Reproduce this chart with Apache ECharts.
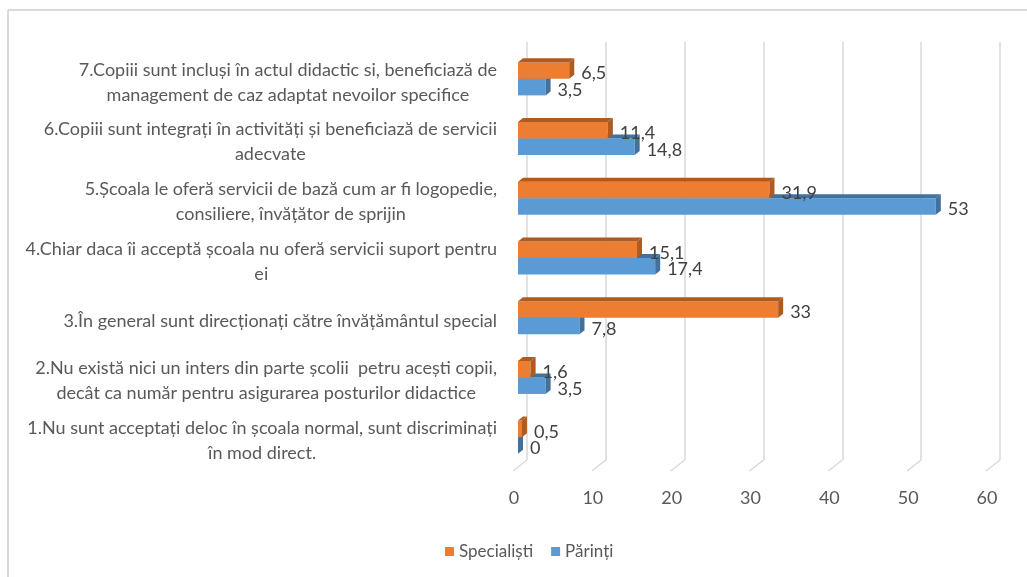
<!DOCTYPE html>
<html>
<head>
<meta charset="utf-8">
<script src="https://cdn.jsdelivr.net/npm/echarts@6/dist/echarts.min.js"></script>
<style>
  html, body { margin: 0; padding: 0; background: #fff; }
  #chart { width: 1027px; height: 577px; }
</style>
</head>
<body>
<div id="chart"></div>
<script>
// categorii, de jos in sus (1 .. 7)
var categories = [
  '1.Nu sunt acceptați deloc în școala normal, sunt discriminați\nîn mod direct.',
  '2.Nu există nici un inters din parte școlii  petru acești copii,\ndecât ca număr pentru asigurarea posturilor didactice',
  '3.În general sunt direcționați către învățământul special',
  '4.Chiar daca îi acceptă școala nu oferă servicii suport pentru\nei',
  '5.Școala le oferă servicii de bază cum ar fi logopedie,\nconsiliere, învățător de sprijin',
  '6.Copiii sunt integrați în activități și beneficiază de servicii\nadecvate',
  '7.Copiii sunt incluși în actul didactic si, beneficiază de\nmanagement de caz adaptat nevoilor specifice'
];
var specialisti = [0.5, 1.6, 33, 15.1, 31.9, 11.4, 6.5];
var parinti = [0, 3.5, 7.8, 17.4, 53, 14.8, 3.5];
var seriesNames = ['Specialiști', 'Părinți'];
var gridTicks = [0, 10, 20, 30, 40, 50, 60];

var FONT = 'Lato, "Liberation Sans", sans-serif';

function fmt(v) {
  return String(v).replace('.', ',');
}

// bara "3D": fata, capac si lateral
function makeRender(slot, dark) {
  return function (params, api) {
    var v = api.value(0), c = api.value(1);
    var base = api.coord([0, c]);
    var end = api.coord([v, c]);
    var band = api.size([0, 1])[1];
    var h = band * 0.277;
    var y0 = slot === 0 ? base[1] - h : base[1];
    var x0 = base[0], x1 = end[0];
    var dx = 5, dy = 4;
    var color = api.visual('color');
    return {
      type: 'group',
      children: [
        { type: 'rect', shape: { x: x0, y: y0, width: x1 - x0, height: h }, style: { fill: color } },
        { type: 'polygon', shape: { points: [[x0, y0], [x0 + dx, y0 - dy], [x1 + dx, y0 - dy], [x1, y0]] }, style: { fill: dark } },
        { type: 'polygon', shape: { points: [[x1, y0], [x1 + dx, y0 - dy], [x1 + dx, y0 + h - dy], [x1, y0 + h]] }, style: { fill: dark } },
        { type: 'text', z2: 10, x: x1 + dx + 7, y: y0 + h / 2 + 3,
          style: { text: fmt(v), fill: '#404040', font: '18px ' + FONT, verticalAlign: 'middle', align: 'left' } }
      ]
    };
  };
}

var chart = echarts.init(document.getElementById('chart'));

var option = {
  backgroundColor: '#fff',
  animation: false,
  graphic: [
    { type: 'line', shape: { x1: 8, y1: 10, x2: 1027, y2: 10 }, style: { stroke: '#D9D9D9', lineWidth: 2 } },
    { type: 'line', shape: { x1: 8, y1: 10, x2: 8, y2: 577 }, style: { stroke: '#D9D9D9', lineWidth: 2 } }
  ],
  legend: {
    left: 440,
    top: 538,
    icon: 'rect',
    itemWidth: 9,
    itemHeight: 9,
    itemGap: 18,
    data: seriesNames,
    textStyle: { color: '#595959', fontSize: 17, fontFamily: FONT }
  },
  grid: [
    { left: 518, right: 36, top: 49, bottom: 110 },
    { left: 527, right: 27, top: 42, bottom: 117 }
  ],
  xAxis: [
    {
      type: 'value', gridIndex: 0, min: 0, max: 60, interval: 10,
      axisLine: { show: false }, axisTick: { show: false }, splitLine: { show: false },
      axisLabel: { color: '#595959', fontSize: 18, fontFamily: FONT, margin: 22, padding: [0, 8, 0, 0] }
    },
    {
      type: 'value', gridIndex: 1, min: 0, max: 60, interval: 10,
      axisLine: { show: false }, axisTick: { show: false }, axisLabel: { show: false },
      splitLine: { show: true, lineStyle: { color: '#D9D9D9', width: 1.5 } }
    }
  ],
  yAxis: [
    {
      type: 'category', gridIndex: 0, data: categories,
      axisLine: { show: false }, axisTick: { show: false },
      axisLabel: {
        margin: 21,
        padding: [7, 0, 0, 0],
        formatter: function (val) {
          return val.split('\n').map(function (l) { return '{c|' + l + '}'; }).join('\n');
        },
        rich: {
          c: { align: 'center', color: '#595959', fontSize: 18, fontFamily: FONT, lineHeight: 25 }
        }
      }
    },
    { type: 'category', gridIndex: 1, data: categories, show: false }
  ],
  series: [
    {
      name: seriesNames[1], type: 'custom', xAxisIndex: 0, yAxisIndex: 0, z: 2,
      itemStyle: { color: '#5B9BD5' },
      renderItem: makeRender(1, '#41719C'),
      data: parinti.map(function (v, i) { return [v, i]; })
    },
    {
      name: seriesNames[0], type: 'custom', xAxisIndex: 0, yAxisIndex: 0, z: 3,
      itemStyle: { color: '#ED7D31' },
      renderItem: makeRender(0, '#AE5A21'),
      data: specialisti.map(function (v, i) { return [v, i]; })
    },
    {
      // picioarele inclinate ale liniilor de grila
      type: 'custom', xAxisIndex: 1, yAxisIndex: 1, z: 1, silent: true,
      renderItem: function (params, api) {
        var p = api.coord([api.value(0), 0]);
        var yb = params.coordSys.y + params.coordSys.height;
        return { type: 'line', shape: { x1: p[0], y1: yb, x2: p[0] - 14, y2: yb + 11 },
          style: { stroke: '#D9D9D9', lineWidth: 1.5 } };
      },
      data: gridTicks.map(function (t) { return [t]; })
    }
  ]
};

chart.setOption(option);
</script>
</body>
</html>
